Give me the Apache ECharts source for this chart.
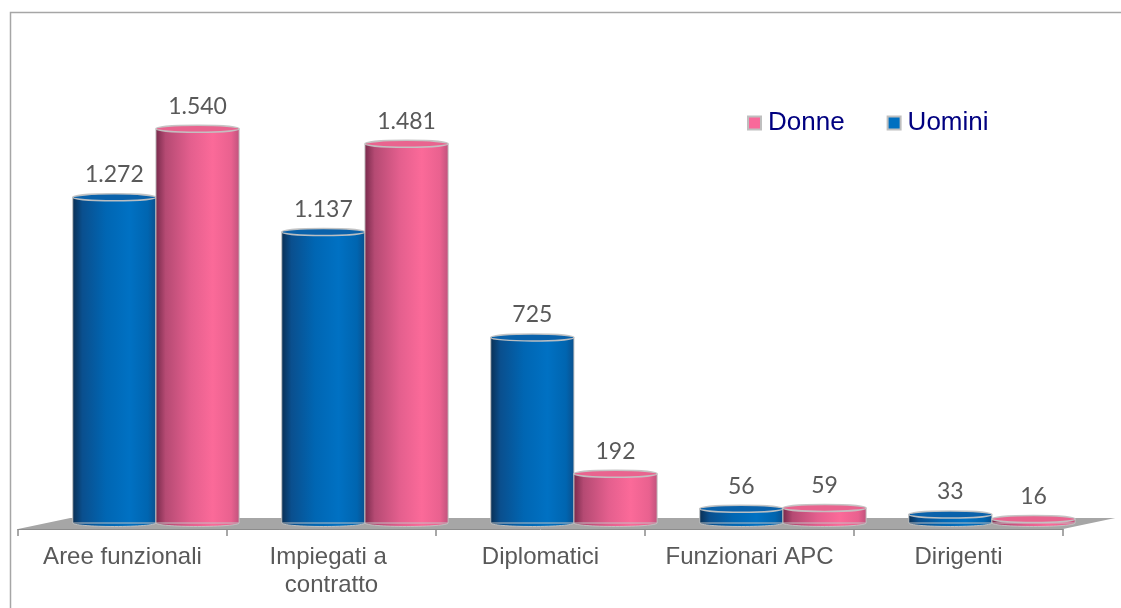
<!DOCTYPE html>
<html>
<head>
<meta charset="utf-8">
<script src="https://cdn.jsdelivr.net/npm/echarts@6/dist/echarts.min.js"></script>
<style>
  html, body { margin: 0; padding: 0; background: #fff; }
  #chart { width: 1121px; height: 608px; }
</style>
</head>
<body>
<div id="chart"></div>
<script>
// Personale per categoria e genere
const categories = ['Aree funzionali', 'Impiegati a contratto', 'Diplomatici', 'Funzionari APC', 'Dirigenti'];
const uomini = [1272, 1137, 725, 56, 33];
const donne = [1540, 1481, 192, 59, 16];
const legendNames = ['Donne', 'Uomini'];

const BLUE = '#0070c0';
const PINK = '#f8699a';

// Italian thousands separator: 1540 -> "1.540"
function fmt(v) {
  return String(v).replace(/\B(?=(\d{3})+(?!\d))/g, '.');
}

const blueStops = [
  { offset: 0, color: '#0b2f52' },
  { offset: 0.12, color: '#0a4f8e' },
  { offset: 0.4, color: '#0066b3' },
  { offset: 0.68, color: '#0071c3' },
  { offset: 0.9, color: '#0065b0' },
  { offset: 1, color: '#0b4f8c' }
];
const pinkStops = [
  { offset: 0, color: '#76294a' },
  { offset: 0.12, color: '#b54a73' },
  { offset: 0.42, color: '#e45f8e' },
  { offset: 0.68, color: '#fb6a99' },
  { offset: 0.9, color: '#e9618f' },
  { offset: 1, color: '#bf527c' }
];

// Cylinder for one bar; side = -1 draws left of the pair, +1 right of it
function cylinder(side, stops, topColor) {
  return function (params, api) {
    const cat = api.value(0);
    const val = api.value(1);
    const top = api.coord([cat, val]);
    const base = api.coord([cat, 0]);
    const catW = api.size([1, 0])[0];
    const bw = catW * 0.398;
    const cx = top[0] + catW * 0.16 + side * bw / 2;
    const x0 = cx - bw / 2;
    const rx = bw / 2;
    const ry = 3.5;
    const grad = { type: 'linear', x: 0, y: 0, x2: 1, y2: 0, colorStops: stops };
    const rim = 'rgba(195,195,195,0.95)';
    return {
      type: 'group',
      children: [
        {
          type: 'ellipse',
          shape: { cx: cx, cy: base[1], rx: rx, ry: ry },
          style: { fill: grad, stroke: rim, lineWidth: 1 }
        },
        {
          type: 'rect',
          shape: { x: x0, y: top[1], width: bw, height: Math.max(base[1] - top[1], 0) },
          style: { fill: grad, stroke: rim, lineWidth: 1 }
        },
        {
          type: 'ellipse',
          shape: { cx: cx, cy: base[1], rx: rx - 0.5, ry: ry - 0.5 },
          style: { fill: grad },
          invisible: base[1] - top[1] > ry
        },
        {
          type: 'ellipse',
          shape: { cx: cx, cy: top[1], rx: rx, ry: ry },
          style: { fill: topColor, stroke: rim, lineWidth: 1.5 }
        },
        {
          type: 'text',
          style: {
            text: fmt(val),
            x: cx,
            y: top[1] - 11,
            align: 'center',
            verticalAlign: 'bottom',
            fontFamily: 'Lato',
            fontSize: 23,
            fill: '#595959'
          }
        }
      ]
    };
  };
}

// Grey floor under the cylinders
function floor(params, api) {
  const l = api.coord([0, 0]);
  const r = api.coord([categories.length - 1, 0]);
  const catW = api.size([1, 0])[0];
  const left = l[0] - catW / 2;
  const right = r[0] + catW / 2;
  const y = l[1];
  const depth = catW * 0.25;
  return {
    type: 'polygon',
    shape: {
      points: [
        [left, y + 6], [right, y + 6],
        [right + depth, y - 5], [left + depth, y - 5]
      ]
    },
    style: { fill: '#a6a6a6' }
  };
}

const chart = echarts.init(document.getElementById('chart'));
chart.setOption({
  backgroundColor: '#ffffff',
  animation: false,
  graphic: [{
    type: 'rect',
    shape: { x: 10.5, y: 12.5, width: 1200, height: 700 },
    style: { fill: 'none', stroke: '#a6a6a6', lineWidth: 1.5 },
    silent: true,
    z: -10
  }],
  grid: { left: 18, right: 58, top: 11, bottom: 85 },
  legend: {
    data: legendNames,
    left: 742,
    top: 104,
    icon: 'rect',
    itemWidth: 13,
    itemHeight: 13,
    itemGap: 42,
    itemStyle: { borderColor: '#bfbfbf', borderWidth: 2 },
    textStyle: {
      color: '#000080',
      fontFamily: 'Liberation Sans, Arial, sans-serif',
      fontSize: 26,
      lineHeight: 28,
      padding: [0, 0, 0, 2]
    }
  },
  xAxis: {
    type: 'category',
    data: categories,
    offset: 6,
    z: 10,
    axisLine: { show: true, onZero: false, lineStyle: { color: '#8c8c8c', width: 1 } },
    axisTick: { show: true, length: 7, lineStyle: { color: '#8c8c8c', width: 1.5 } },
    axisLabel: {
      color: '#595959',
      fontFamily: 'Liberation Sans, Arial, sans-serif',
      fontSize: 24,
      lineHeight: 28,
      margin: 14,
      width: 195,
      overflow: 'break',
      interval: 0
    }
  },
  yAxis: {
    type: 'value',
    min: 0,
    max: 2000,
    show: false,
    splitLine: { show: false }
  },
  series: [
    {
      name: 'floor',
      type: 'custom',
      renderItem: floor,
      data: [[0, 0]],
      silent: true,
      z: 1
    },
    {
      name: 'Uomini',
      type: 'custom',
      renderItem: cylinder(-1, blueStops, '#0a62ab'),
      itemStyle: { color: BLUE },
      data: uomini.map((v, i) => [i, v]),
      z: 2
    },
    {
      name: 'Donne',
      type: 'custom',
      renderItem: cylinder(1, pinkStops, '#e9648f'),
      itemStyle: { color: PINK },
      data: donne.map((v, i) => [i, v]),
      z: 3
    }
  ]
});
</script>
</body>
</html>
